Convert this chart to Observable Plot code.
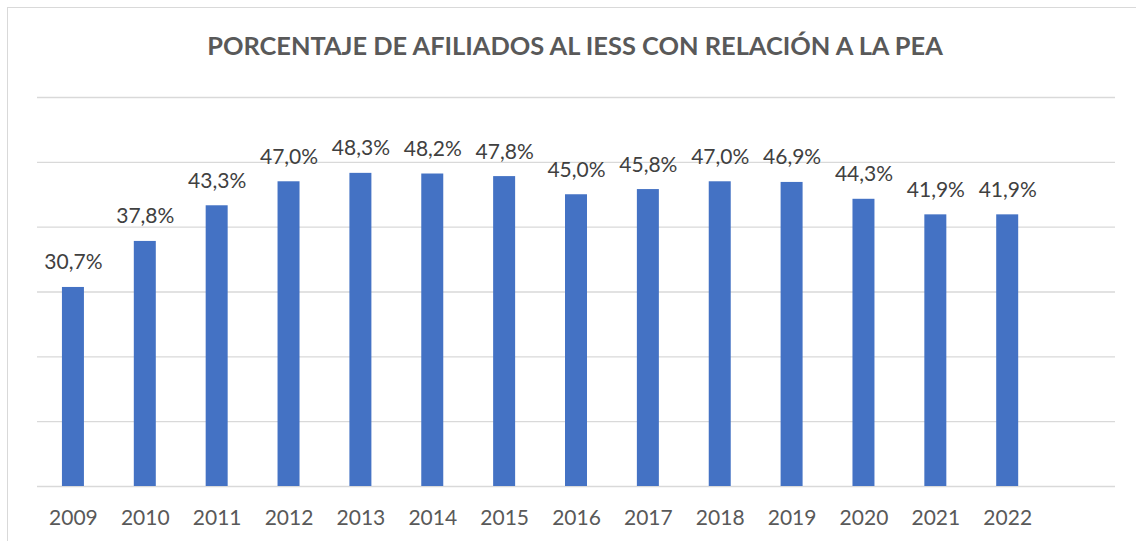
<!DOCTYPE html>
<html>
<head>
<meta charset="utf-8">
<script src="https://cdn.jsdelivr.net/npm/d3@7"></script>
<script src="https://cdn.jsdelivr.net/npm/@observablehq/plot@0.6"></script>
<style>
  html, body { margin: 0; padding: 0; background: #fff; }
  #wrap { position: relative; width: 1136px; height: 541px; overflow: hidden; font-family: Lato, "Open Sans", sans-serif; }
  #frame { position: absolute; left: 7px; top: 7px; width: 1200px; height: 600px; border-left: 1.5px solid #d9d9d9; border-top: 1.5px solid #d9d9d9; box-sizing: border-box; }
  #title { position: absolute; left: 0; width: 1150px; text-align: center; font-weight: bold; color: #595959; line-height: 1; white-space: nowrap; }
  #title span { display: inline-block; }
  #chart { position: absolute; left: 0; top: 0; }
</style>
</head>
<body>
<div id="wrap">
  <div id="frame"></div>
  <div id="title"><span id="tspan">PORCENTAJE DE AFILIADOS AL IESS CON RELACIÓN A LA PEA</span></div>
  <div id="chart"></div>
</div>
<script>
const titleText = "PORCENTAJE DE AFILIADOS AL IESS CON RELACIÓN A LA PEA";
const years = ["2009","2010","2011","2012","2013","2014","2015","2016","2017","2018","2019","2020","2021","2022"];
const values = [30.7, 37.8, 43.3, 47.0, 48.3, 48.2, 47.8, 45.0, 45.8, 47.0, 46.9, 44.3, 41.9, 41.9];
const gridTicks = [0, 10, 20, 30, 40, 50, 60];

const data = years.map((y, i) => ({year: y, value: values[i]}));
const fmt = v => v.toFixed(1).replace(".", ",") + "%";

const chart = Plot.plot({
  width: 1136,
  height: 541,
  marginTop: 97,
  marginBottom: 55,
  marginLeft: 37,
  marginRight: 21,
  style: {fontFamily: "Lato, 'Open Sans', sans-serif", background: "transparent", overflow: "visible"},
  x: {domain: [...years, ""], paddingInner: 0.694, paddingOuter: 0.347, round: false, label: null},
  y: {domain: [0, 60], axis: null},
  marks: [
    Plot.ruleY(gridTicks, {stroke: "#d9d9d9", strokeWidth: 1.4}),
    Plot.barY(data, {x: "year", y: "value", fill: "#4472C4"}),
    Plot.text(data, {x: "year", y: "value", text: d => fmt(d.value), lineAnchor: "bottom", dy: -18, fontSize: 21, fill: "#404040"}),
    Plot.axisX({tickSize: 0, tickPadding: 24, fontSize: 21, color: "#595959", tickFormat: d => d, label: null})
  ]
});
document.getElementById("chart").appendChild(chart);

// fit title to the reference width
const tdiv = document.getElementById("title");
const tspan = document.getElementById("tspan");
let F = 24;
tdiv.style.fontSize = F + "px";
const w = tspan.getBoundingClientRect().width;
F = F * 736 / w;
tdiv.style.fontSize = F + "px";
tdiv.style.top = (56 - 0.887 * F) + "px";
</script>
</body>
</html>
